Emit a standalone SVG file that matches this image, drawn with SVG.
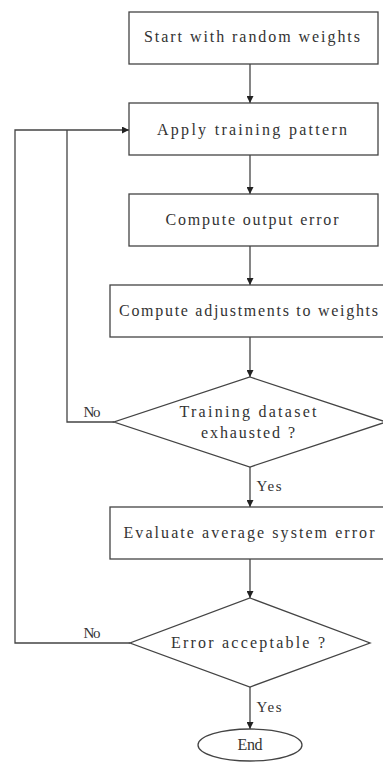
<svg xmlns="http://www.w3.org/2000/svg" width="383" height="762" viewBox="0 0 383 762">
<style>
.n{fill:#fff;stroke:#444;stroke-width:1.3}
.c{fill:none;stroke:#444;stroke-width:1.3}
text{font-family:"Liberation Serif","DejaVu Serif",serif;font-size:16px;fill:#333;text-anchor:middle}
.l{font-size:15px}
</style>
<defs>
<marker id="a" viewBox="0 0 10 10" refX="10" refY="5" markerWidth="7" markerHeight="7" markerUnits="userSpaceOnUse" orient="auto"><path d="M0,0L10,5L0,10z" fill="#222"/></marker>
</defs>
<rect width="383" height="762" fill="#fff"/>
<g id="connectors">
<line class="c" x1="250" y1="64" x2="250" y2="103" marker-end="url(#a)"/>
<line class="c" x1="250" y1="155" x2="250" y2="194" marker-end="url(#a)"/>
<line class="c" x1="250" y1="246" x2="250" y2="285" marker-end="url(#a)"/>
<line class="c" x1="250" y1="337" x2="250" y2="377" marker-end="url(#a)"/>
<line class="c" x1="250" y1="467" x2="250" y2="507" marker-end="url(#a)"/>
<line class="c" x1="250" y1="559" x2="250" y2="598" marker-end="url(#a)"/>
<line class="c" x1="250" y1="687" x2="250" y2="729" marker-end="url(#a)"/>
<polyline class="c" points="114,422 67,422 67,130"/>
<polyline class="c" points="130,643 15,643 15,130 129,130" marker-end="url(#a)"/>
<text class="l" x="92" y="417" textLength="17" lengthAdjust="spacing">No</text>
<text class="l" x="92" y="638" textLength="17" lengthAdjust="spacing">No</text>
<text class="l" x="269" y="491" textLength="25" lengthAdjust="spacing">Yes</text>
<text class="l" x="269" y="712" textLength="25" lengthAdjust="spacing">Yes</text>
</g>
<g id="start"><rect class="n" x="129" y="12" width="249" height="52"/><text x="252" y="42" textLength="216" lengthAdjust="spacing">Start with random weights</text></g>
<g id="apply"><rect class="n" x="129" y="103" width="249" height="52"/><text x="252" y="135" textLength="190" lengthAdjust="spacing">Apply training pattern</text></g>
<g id="output"><rect class="n" x="129" y="194" width="249" height="52"/><text x="252" y="225" textLength="173" lengthAdjust="spacing">Compute output error</text></g>
<g id="adjust"><rect class="n" x="110" y="285" width="280" height="52"/><text x="248.5" y="316" textLength="259" lengthAdjust="spacing">Compute adjustments to weights</text></g>
<g id="exhausted"><polygon class="n" points="250,377 386,422 250,467 114,422"/><text x="248" y="417" textLength="137" lengthAdjust="spacing">Training dataset</text><text x="248" y="438" textLength="94" lengthAdjust="spacing">exhausted ?</text></g>
<g id="evaluate"><rect class="n" x="110" y="507" width="280" height="52"/><text x="249" y="538" textLength="251" lengthAdjust="spacing">Evaluate average system error</text></g>
<g id="acceptable"><polygon class="n" points="250,598 370,643 250,687 130,643"/><text x="248" y="648" textLength="154" lengthAdjust="spacing">Error acceptable ?</text></g>
<g id="end"><ellipse class="n" cx="250" cy="745" rx="52" ry="16"/><text x="250" y="750" textLength="25" lengthAdjust="spacing">End</text></g>
</svg>
